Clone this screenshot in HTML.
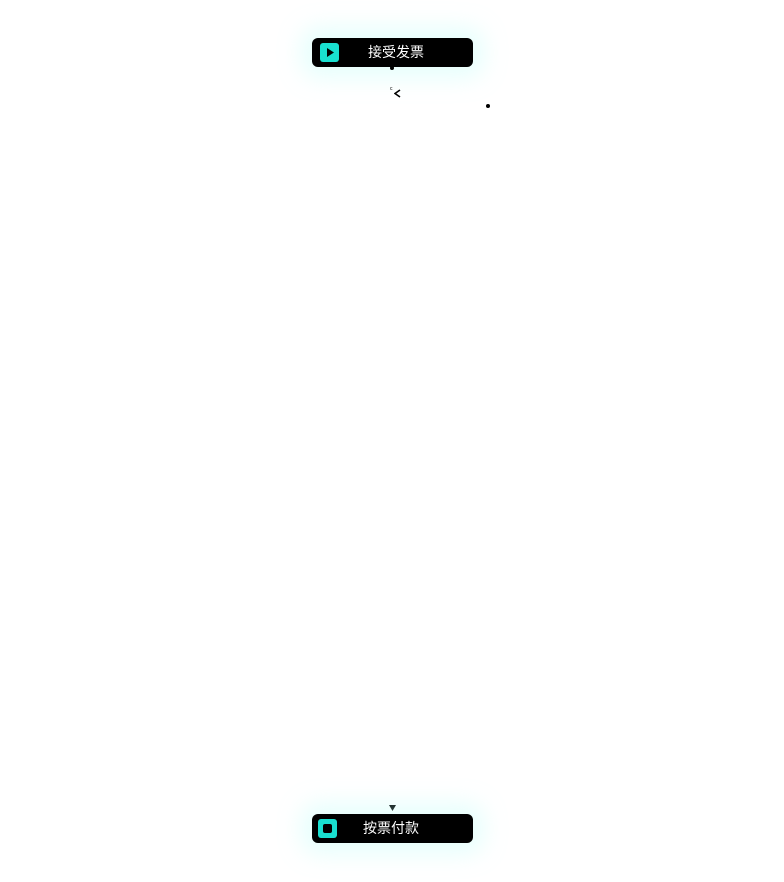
<!DOCTYPE html>
<html><head><meta charset="utf-8"><style>
body{margin:0;width:784px;height:882px;background:#fff;position:relative;overflow:hidden;font-family:"Liberation Sans","Noto Sans CJK SC",sans-serif}
.n{position:absolute;left:312px;width:161px;height:29px;background:#000;border-radius:6px;box-shadow:0 0 24px 10px rgba(180,255,245,.35);color:#fff;font-size:14px;line-height:29px}
.ic{position:absolute;left:8px;top:5px;width:19px;height:19px;background:#19e0d0;border-radius:3px}
.t{position:absolute;top:0}
</style></head><body>
<div class="n" style="top:38px"><div class="ic"><svg width="19" height="19"><polygon points="7,5 7,14 14,9.5" fill="#000"/></svg></div><span class="t" style="left:56px">接受发票</span></div>
<div style="position:absolute;left:390px;top:66px;width:4px;height:4px;border-radius:50%;background:#000"></div>
<div style="position:absolute;left:390px;top:86px;font-size:5px">c</div>
<svg style="position:absolute;left:394px;top:89px" width="8" height="9"><polyline points="6,1 1,4.5 6,8" fill="none" stroke="#000" stroke-width="1.6"/></svg>
<div style="position:absolute;left:486px;top:104px;width:4px;height:4px;border-radius:50%;background:#000"></div>
<svg style="position:absolute;left:388px;top:804px" width="9" height="8"><polygon points="1,1 8,1 4.5,7" fill="#000"/></svg>
<div class="n" style="top:814px"><div class="ic" style="left:6px"><div style="position:absolute;left:5px;top:5px;width:9px;height:9px;background:#000;border-radius:2px"></div></div><span class="t" style="left:51px">按票付款</span></div>
</body></html>
